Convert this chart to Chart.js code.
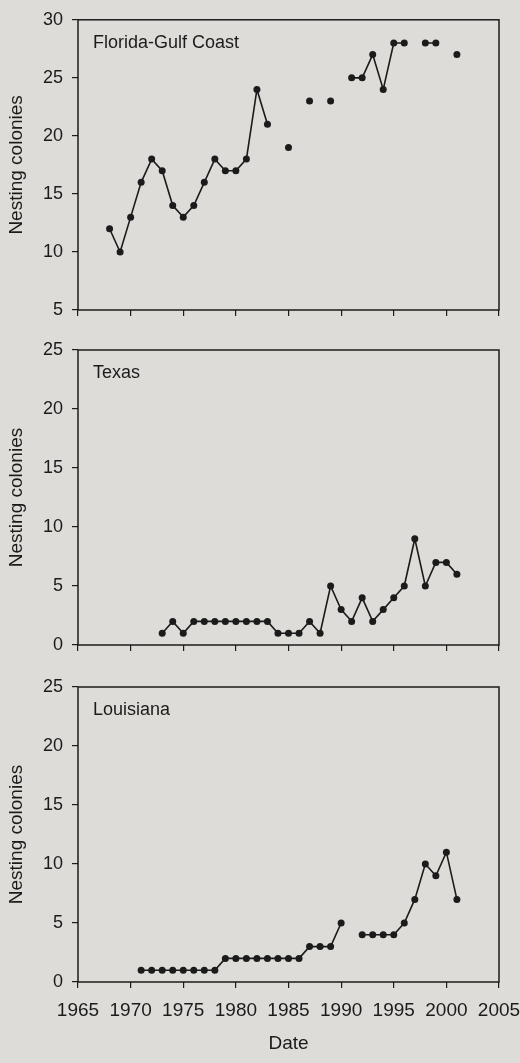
<!DOCTYPE html>
<html>
  <head>
    <meta charset="UTF-8">
    <title>Nesting colonies</title>
    <script src="https://cdn.jsdelivr.net/npm/chart.js"></script>
    <style>
      body { margin: 0; background: #dddcd8; }
      #wrap { position: relative; width: 520px; height: 1063px; background: #dddcd8; }
      canvas { position: absolute; left: 0; }
    </style>
  </head>
  <body>
    <div id="wrap">
      <canvas id="c1" width="520" height="330" style="top:0px"></canvas>
      <canvas id="c2" width="520" height="335" style="top:330px"></canvas>
      <canvas id="c3" width="520" height="398" style="top:665px"></canvas>
    </div>

    <script>
      // survey years (null = no survey that year)
      const years = [1968, 1969, 1970, 1971, 1972, 1973, 1974, 1975, 1976, 1977,
                     1978, 1979, 1980, 1981, 1982, 1983, 1984, 1985, 1986, 1987,
                     1988, 1989, 1990, 1991, 1992, 1993, 1994, 1995, 1996, 1997,
                     1998, 1999, 2000, 2001];
      const florida = [12, 10, 13, 16, 18, 17, 14, 13, 14, 16,
                       18, 17, 17, 18, 24, 21, null, 19, null, 23,
                       null, 23, null, 25, 25, 27, 24, 28, 28, null,
                       28, 28, null, 27];
      const texas = [null, null, null, null, null, 1, 2, 1, 2, 2,
                     2, 2, 2, 2, 2, 2, 1, 1, 1, 2,
                     1, 5, 3, 2, 4, 2, 3, 4, 5, 9,
                     5, 7, 7, 6];
      const louisiana = [null, null, null, 1, 1, 1, 1, 1, 1, 1,
                         1, 2, 2, 2, 2, 2, 2, 2, 2, 3,
                         3, 3, 5, null, 4, 4, 4, 4, 5, 7,
                         10, 9, 11, 7];
      const dateTicks = [1965, 1970, 1975, 1980, 1985, 1990, 1995, 2000, 2005];

      const ink = '#1b1b1b';
      const fontFamily = "'Liberation Sans', Arial, sans-serif";

      // box around plot area + region name in the corner
      const framePlugin = {
        id: 'frame',
        afterDraw(chart, args, opts) {
          const a = chart.chartArea;
          const ctx = chart.ctx;
          ctx.save();
          ctx.strokeStyle = ink;
          ctx.lineWidth = 1.5;
          ctx.strokeRect(a.left, a.top, a.right - a.left, a.bottom - a.top);
          ctx.fillStyle = ink;
          ctx.font = '18px ' + fontFamily;
          ctx.textBaseline = 'middle';
          ctx.fillText(opts.label, a.left + 15, a.top + 23);
          ctx.restore();
        }
      };

      function makePanel(id, label, values, yMin, yMax, padTop, xHeight, showX) {
        const ctx = document.getElementById(id).getContext('2d');
        return new Chart(ctx, {
          type: 'line',
          data: {
            datasets: [{
              data: years.map((y, i) => ({ x: y, y: values[i] })),
              borderColor: ink,
              borderWidth: 1.6,
              pointRadius: 3.5,
              pointBackgroundColor: ink,
              pointBorderWidth: 0,
              spanGaps: false,
              tension: 0
            }]
          },
          options: {
            responsive: false,
            animation: false,
            layout: { padding: { top: padTop, right: 21, left: 0, bottom: 0 } },
            plugins: {
              legend: { display: false },
              tooltip: { enabled: false },
              frame: { label: label }
            },
            scales: {
              x: {
                type: 'linear',
                min: 1965,
                max: 2005,
                afterBuildTicks: s => { s.ticks = dateTicks.map(v => ({ value: v })); },
                afterFit: s => { s.height = xHeight; s.paddingRight = 0; s.paddingLeft = 0; },
                grid: { drawOnChartArea: false, drawTicks: true, tickLength: 6, color: ink, lineWidth: 1.2 },
                border: { display: false },
                ticks: {
                  display: showX,
                  color: ink,
                  padding: 11,
                  maxRotation: 0,
                  font: { size: 19, family: fontFamily },
                  callback: v => String(v)
                },
                title: {
                  display: showX,
                  text: 'Date',
                  color: ink,
                  padding: { top: 8, bottom: 8 },
                  font: { size: 19, family: fontFamily }
                }
              },
              y: {
                min: yMin,
                max: yMax,
                afterFit: s => { s.width = 78; },
                grid: { drawOnChartArea: false, drawTicks: true, tickLength: 6, color: ink, lineWidth: 1.2 },
                border: { display: false },
                ticks: {
                  stepSize: 5,
                  color: ink,
                  padding: 9,
                  font: { size: 18, family: fontFamily }
                },
                title: {
                  display: true,
                  text: 'Nesting colonies',
                  color: ink,
                  padding: { top: 5, bottom: 5 },
                  font: { size: 19, family: fontFamily }
                }
              }
            }
          },
          plugins: [framePlugin]
        });
      }

      makePanel('c1', 'Florida-Gulf Coast', florida, 5, 30, 13, 20, false);
      makePanel('c2', 'Texas', texas, 0, 25, 20, 20, false);
      makePanel('c3', 'Louisiana', louisiana, 0, 25, 22, 81, true);
    </script>
  </body>
</html>
